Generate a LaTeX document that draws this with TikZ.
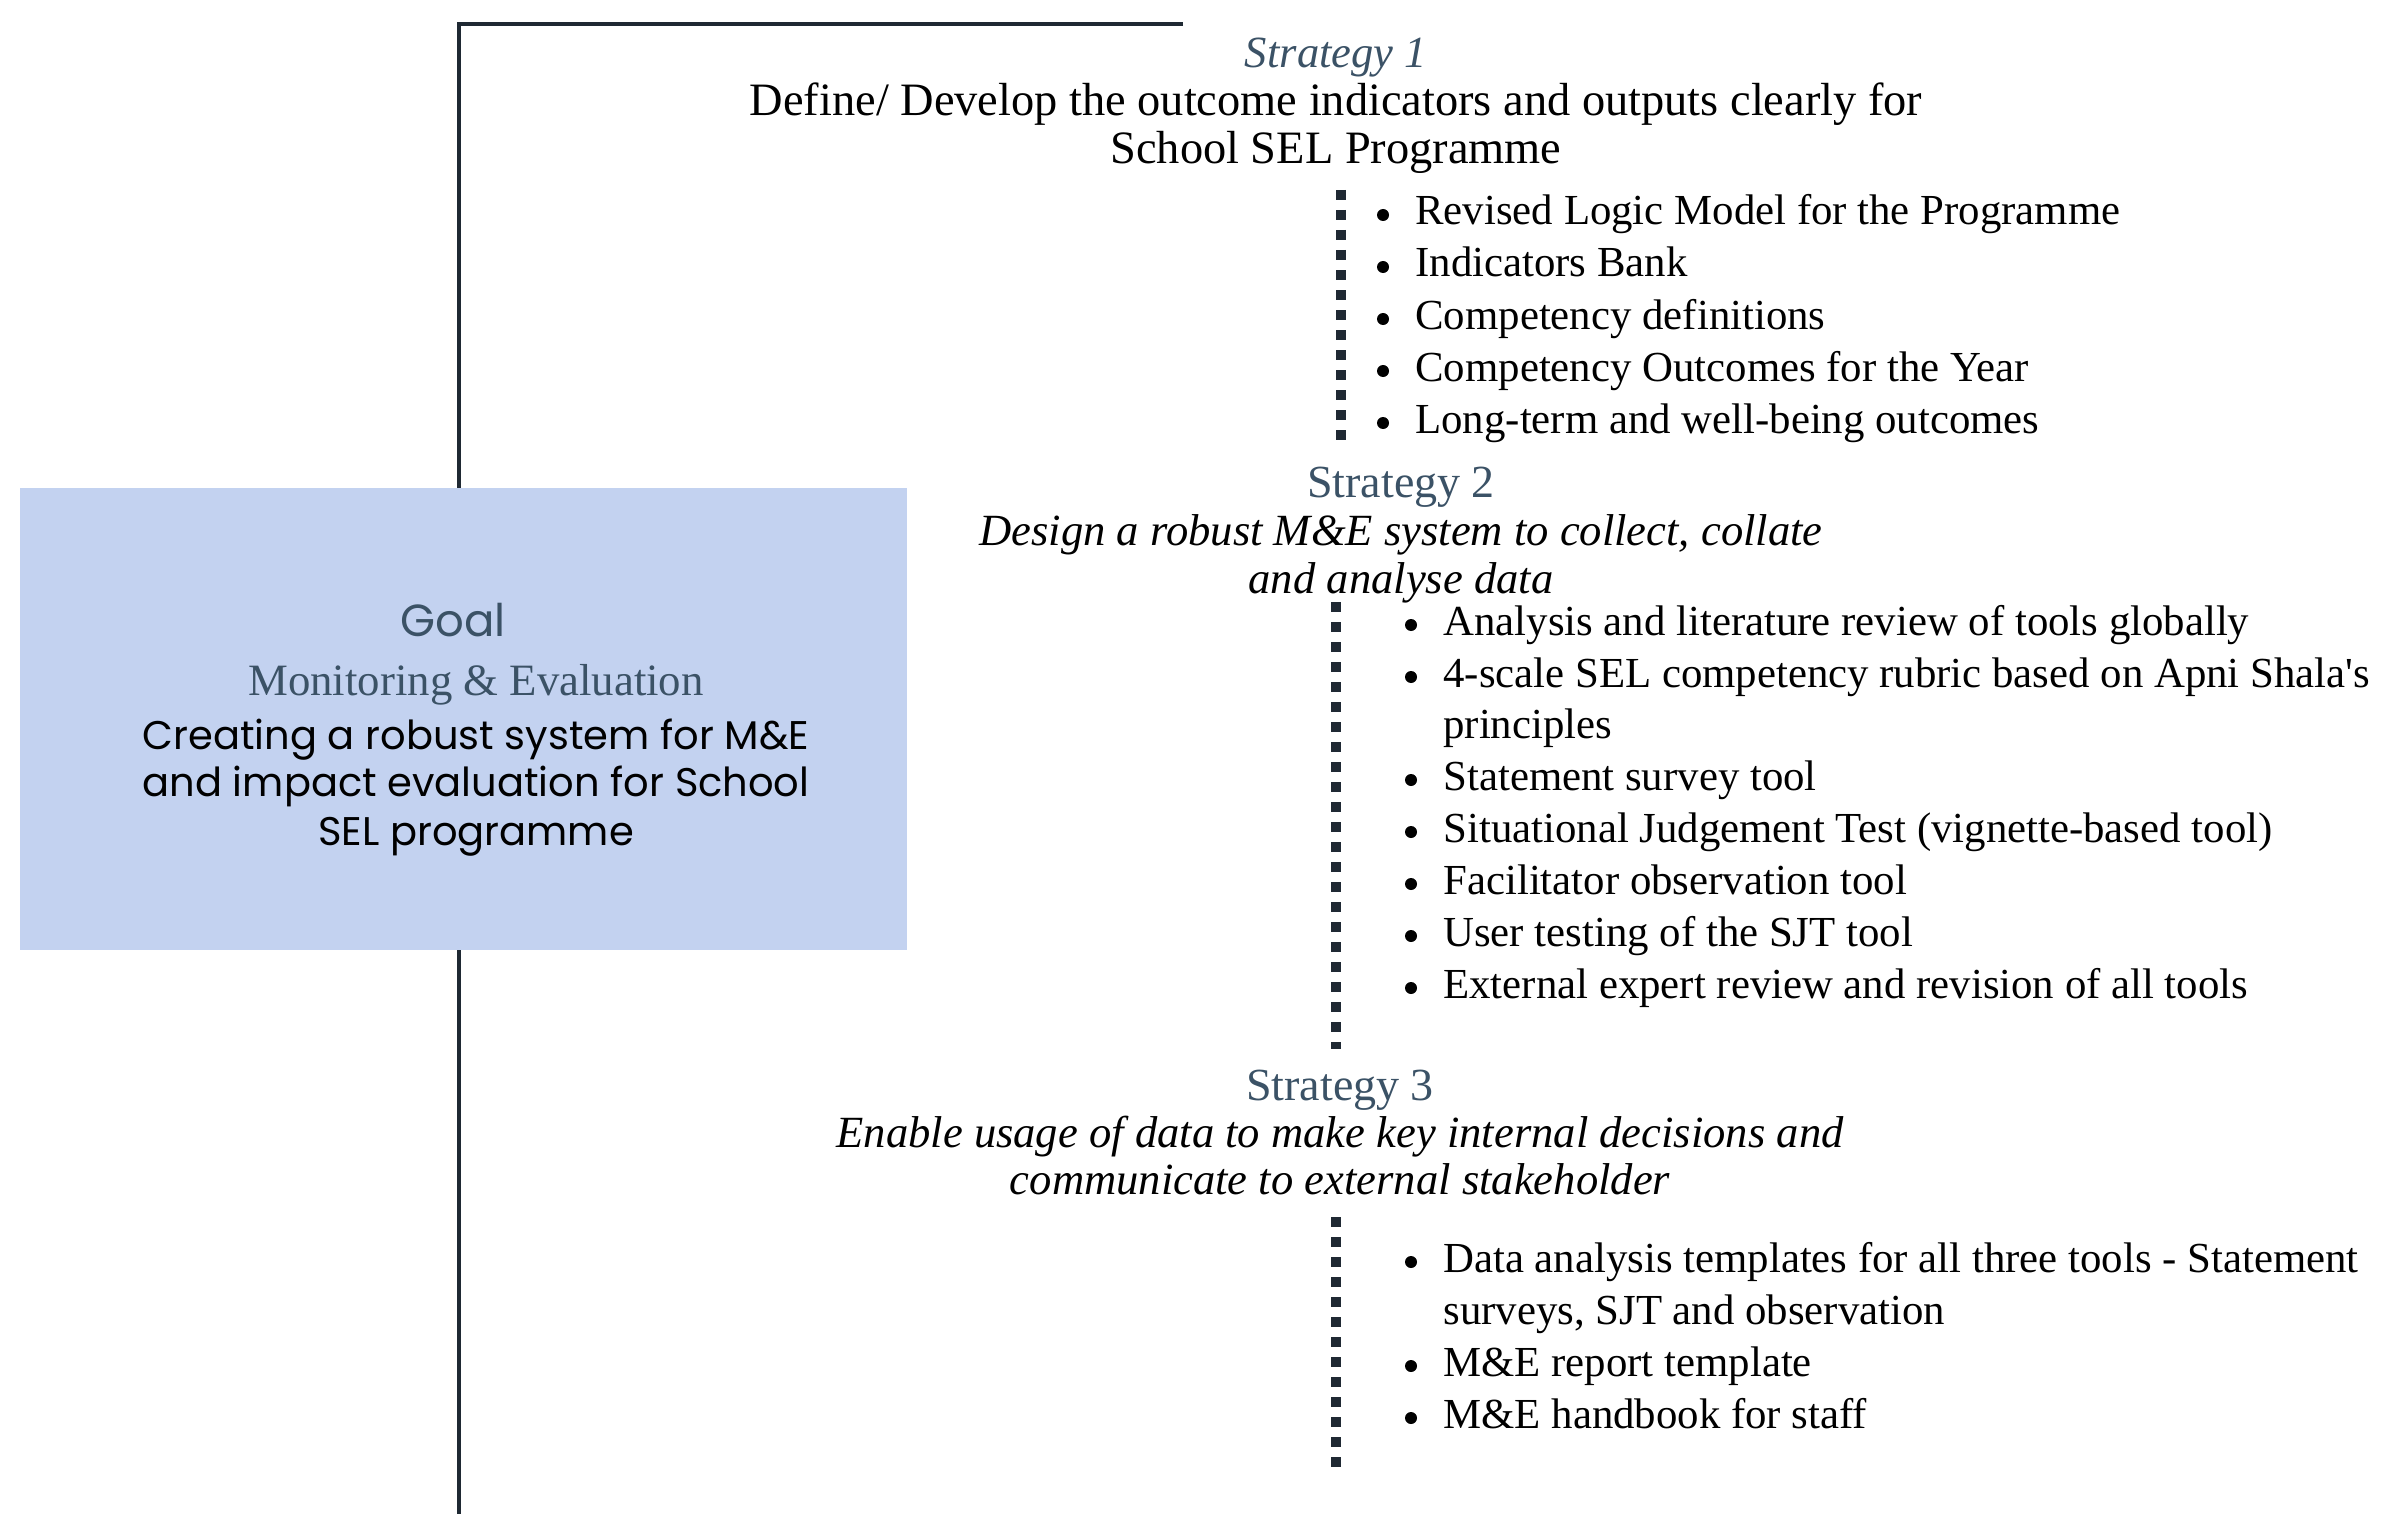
\documentclass[tikz,border=0pt]{standalone}
\usepackage{fontspec}
\setmainfont{Liberation Serif}
\newfontfamily\goalsans{Poppins}
\definecolor{slate}{HTML}{3B5266}
\definecolor{ink}{HTML}{1F2933}
\definecolor{goalfill}{HTML}{C3D2F0}
\tikzset{
  body/.style={font=\fontsize{21.4}{26}\selectfont, text=black, inner sep=0pt},
  headrm/.style={font=\fontsize{23.2}{26}\selectfont, text=black, inner sep=0pt, anchor=base},
  headit/.style={font=\fontsize{22.3}{26}\selectfont\itshape, text=black, inner sep=0pt, anchor=base},
  stratlbl/.style={font=\fontsize{23}{26}\selectfont, text=slate, inner sep=0pt, anchor=base},
  sanstxt/.style={font=\goalsans\fontsize{20}{22}\selectfont, text=black, inner sep=0pt, anchor=base},
  bul/.style={circle, fill=black, draw=none, minimum size=6pt, inner sep=0pt},
  item/.style={body, anchor=base west},
  solidline/.style={draw=ink, line width=1.9pt},
  dotline/.style={draw=ink, line width=5pt, dash pattern=on 5pt off 5pt},
  goalbox/.style={fill=goalfill, draw=none, minimum width=443.5pt, minimum height=231pt, inner sep=0pt}
}
\begin{document}
\begin{tikzpicture}[x=0.5pt,y=-0.5pt]
\useasboundingbox (0,0) rectangle (2391,1514);
% goal box
\node[goalbox] (goal) at (463.5,719) {};
\coordinate (tl) at (459,24);
\coordinate (tr) at (1183,24);
\coordinate (bot) at (459,1514);
\draw[solidline] (tr) -- (tl) -- (tl |- goal.north);
\draw[solidline] (goal.south -| tl) -- (bot);
\node[font=\goalsans\fontsize{22.5}{26}\selectfont, text=slate, inner sep=0pt, anchor=base] (goalt) at (453,636) {Goal};
\node[stratlbl, font=\fontsize{22.4}{26}\selectfont] (mne) at (476,695) {Monitoring \& Evaluation};
\node[sanstxt] (g1) at (476,749) {Creating a robust system for M\&E};
\node[sanstxt] (g2) at (476,796) {and impact evaluation for School};
\node[sanstxt] (g3) at (476,845) {SEL programme};
% strategy 1
\node[stratlbl, font=\fontsize{22.3}{26}\selectfont\itshape] (s1) at (1336,68) {Strategy 1};
\node[headrm] (s1a) at (1336,116) {Define/ Develop the outcome indicators and outputs clearly for};
\node[headrm] (s1b) at (1336,164) {School SEL Programme};
\coordinate (d1a) at (1341,190);
\coordinate (d1b) at (1341,440);
\draw[dotline] (d1a) -- (d1b);
\foreach \yy/\nm/\tx in {225/a/{Revised Logic Model for the Programme},277/b/{Indicators Bank},329/c/{Competency definitions},381/d/{Competency Outcomes for the Year},433/e/{Long-term and well-being outcomes}}{
  \node[bul] (b1\nm) at (1383,\yy-10) {};
  \node[item] (i1\nm) at (1415,\yy) {\tx};
}
% strategy 2
\node[stratlbl] (s2) at (1401,497) {Strategy 2};
\node[headit] (s2a) at (1401,545) {Design a robust M\&E system to collect, collate};
\node[headit] (s2b) at (1401,593) {and analyse data};
\coordinate (d2a) at (1336,602);
\coordinate (d2b) at (1336,1049);
\draw[dotline] (d2a) -- (d2b);
\foreach \yy/\nm/\tx in {635/a/{Analysis and literature review of tools globally},687/b/{4-scale SEL competency rubric based on Apni Shala\textquotesingle s},790/c/{Statement survey tool},842/d/{Situational Judgement Test (vignette-based tool)},894/e/{Facilitator observation tool},946/f/{User testing of the SJT tool},998/g/{External expert review and revision of all tools}}{
  \node[bul] (b2\nm) at (1411,\yy-10) {};
  \node[item] (i2\nm) at (1443,\yy) {\tx};
}
\node[item] (i2b2) at (1443,738) {principles};
% strategy 3
\node[stratlbl] (s3) at (1340,1100) {Strategy 3};
\node[headit] (s3a) at (1340,1147) {Enable usage of data to make key internal decisions and};
\node[headit] (s3b) at (1340,1194) {communicate to external stakeholder};
\coordinate (d3a) at (1336,1217);
\coordinate (d3b) at (1336,1467);
\draw[dotline] (d3a) -- (d3b);
\foreach \yy/\nm/\tx in {1272/a/{Data analysis templates for all three tools - Statement},1376/b/{M\&E report template},1428/c/{M\&E handbook for staff}}{
  \node[bul] (b3\nm) at (1411,\yy-10) {};
  \node[item] (i3\nm) at (1443,\yy) {\tx};
}
\node[item] (i3a2) at (1443,1324) {surveys, SJT and observation};
\end{tikzpicture}
\end{document}
